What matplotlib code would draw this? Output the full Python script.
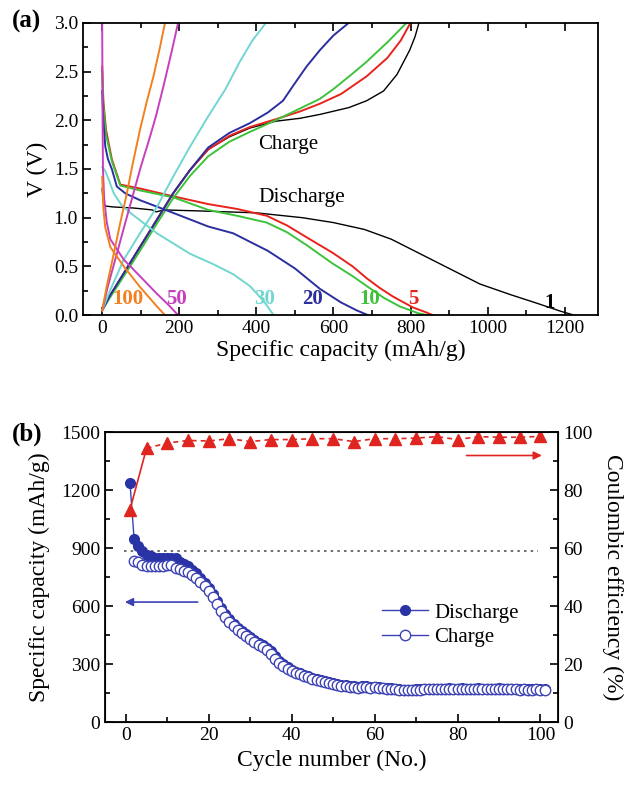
import numpy as np
import matplotlib
matplotlib.use("Agg")
import matplotlib.pyplot as plt
from matplotlib.ticker import MultipleLocator

plt.rcParams['font.family'] = ['Liberation Serif', 'DejaVu Serif']
plt.rcParams['mathtext.fontset'] = 'stix'

# ---------------- panel (a): charge / discharge profiles ----------------
# cycle 1 (black)
dis1_cap = [0, 2, 8, 30, 80, 130, 140, 160, 250, 400, 520, 600, 680, 750, 820, 900, 980, 1060, 1130, 1190, 1225]
dis1_v = [1.30, 1.18, 1.12, 1.11, 1.10, 1.08, 1.06, 1.08, 1.07, 1.05, 1.00, 0.95, 0.88, 0.78, 0.64, 0.48, 0.32, 0.21, 0.12, 0.04, 0.0]
chg1_cap = [0, 20, 56, 98, 142, 184, 228, 275, 330, 383, 450, 513, 565, 640, 686, 730, 765, 798, 812, 822]
chg1_v = [0.05, 0.2, 0.43, 0.7, 0.98, 1.25, 1.49, 1.7, 1.83, 1.92, 1.99, 2.02, 2.06, 2.13, 2.2, 2.3, 2.47, 2.72, 2.86, 3.0]
# cycle 5 (red)
dis5_cap = [0, 3, 10, 25, 47, 98, 184, 275, 350, 427, 480, 530, 598, 650, 686, 720, 755, 806, 840, 858]
dis5_v = [2.55, 2.2, 1.9, 1.6, 1.34, 1.3, 1.22, 1.14, 1.09, 1.02, 0.92, 0.8, 0.64, 0.5, 0.38, 0.28, 0.19, 0.08, 0.03, 0.0]
chg5_cap = [0, 20, 56, 98, 142, 184, 228, 275, 330, 383, 450, 513, 565, 620, 686, 740, 775, 800]
chg5_v = [0.05, 0.2, 0.43, 0.7, 0.98, 1.25, 1.49, 1.7, 1.84, 1.93, 2.01, 2.09, 2.17, 2.27, 2.45, 2.64, 2.82, 3.0]
# cycle 10 (green)
dis10_cap = [0, 3, 10, 25, 47, 98, 184, 275, 350, 427, 480, 530, 598, 650, 686, 730, 772, 820, 845]
dis10_v = [2.5, 2.15, 1.85, 1.58, 1.33, 1.28, 1.21, 1.08, 1.02, 0.95, 0.85, 0.72, 0.53, 0.4, 0.3, 0.18, 0.09, 0.02, 0.0]
chg10_cap = [0, 20, 56, 98, 142, 184, 228, 275, 330, 383, 450, 513, 565, 600, 650, 686, 740, 790]
chg10_v = [0.05, 0.18, 0.4, 0.66, 0.94, 1.2, 1.43, 1.63, 1.78, 1.88, 2.0, 2.12, 2.22, 2.32, 2.48, 2.6, 2.8, 3.0]
# cycle 20 (blue)
dis20_cap = [0, 3, 8, 15, 25, 38, 60, 98, 184, 275, 340, 430, 500, 565, 620, 660, 690]
dis20_v = [2.3, 2.0, 1.73, 1.6, 1.5, 1.32, 1.25, 1.18, 1.05, 0.91, 0.84, 0.66, 0.48, 0.27, 0.13, 0.05, 0.0]
chg20_cap = [0, 20, 56, 98, 142, 184, 228, 275, 330, 383, 430, 469, 500, 530, 565, 600, 640]
chg20_v = [0.05, 0.2, 0.43, 0.7, 0.98, 1.25, 1.49, 1.72, 1.87, 1.97, 2.08, 2.2, 2.38, 2.55, 2.72, 2.87, 3.0]
# cycle 30 (cyan)
dis30_cap = [0, 8, 18, 30, 50, 73, 142, 228, 290, 340, 383, 420, 445]
dis30_v = [1.52, 1.48, 1.38, 1.25, 1.13, 1.05, 0.84, 0.63, 0.52, 0.42, 0.3, 0.14, 0.0]
chg30_cap = [0, 20, 56, 98, 142, 184, 228, 275, 320, 357, 390, 425]
chg30_v = [0.05, 0.25, 0.57, 0.84, 1.11, 1.42, 1.73, 2.04, 2.32, 2.6, 2.82, 3.0]
# cycle 50 (magenta)
dis50_cap = [0, 1, 2, 5, 12, 21, 56, 98, 142, 176, 197]
dis50_v = [3.0, 2.0, 1.5, 1.2, 0.95, 0.78, 0.57, 0.4, 0.22, 0.09, 0.0]
chg50_cap = [0, 15, 38, 60, 81, 100, 124, 140, 159, 180, 197]
chg50_v = [0.05, 0.3, 0.63, 0.95, 1.25, 1.52, 1.83, 2.05, 2.35, 2.7, 3.0]
# cycle 100 (orange)
dis100_cap = [0, 3, 8, 21, 56, 98, 142, 163]
dis100_v = [1.42, 1.1, 0.9, 0.7, 0.5, 0.29, 0.09, 0.0]
chg100_cap = [0, 12, 30, 47, 64, 80, 98, 115, 133, 150, 163]
chg100_v = [0.05, 0.3, 0.63, 0.95, 1.25, 1.57, 1.9, 2.18, 2.45, 2.75, 3.0]

cycle_labels = ['1', '5', '10', '20', '30', '50', '100']
label_cap = [1160, 806, 694, 547, 422, 194, 68]
label_v = [0.13, 0.17, 0.17, 0.17, 0.17, 0.17, 0.17]

# ---------------- panel (b): cycling ----------------
dis_cycle = list(range(1, 102))
dis_capacity = [1240, 950, 910, 885, 868, 858, 852, 850, 848, 850, 852, 848, 830, 820, 810,
                790, 770, 748, 722, 695, 665, 625, 590, 558, 532, 510, 488, 470, 455, 440,
                425, 410, 398, 385, 368, 345, 318, 300, 286, 273, 262, 254, 246, 238, 231,
                225, 220, 215, 208, 203, 198, 194, 191, 189, 186, 184, 187, 186, 184, 185,
                182, 179, 177, 175, 173, 171, 169, 168, 169, 170, 171, 173, 173, 174, 174,
                173, 174, 175, 174, 174, 175, 174, 173, 174, 175, 174, 174, 173, 174, 175,
                174, 173, 174, 173, 172, 173, 172, 171, 173, 172, 171]
chg_cycle = list(range(2, 102))
chg_capacity = [835, 830, 815, 810, 808, 806, 806, 808, 812, 814, 800, 795, 785, 775,
                760, 745, 725, 705, 680, 650, 610, 575, 545, 520, 500, 478, 460, 445, 430,
                415, 402, 390, 375, 355, 330, 305, 290, 278, 265, 255, 248, 240, 232, 225,
                220, 215, 210, 203, 198, 193, 190, 187, 185, 182, 180, 183, 182, 180, 182,
                178, 175, 173, 172, 170, 168, 166, 165, 166, 167, 168, 170, 170, 171, 171,
                170, 171, 172, 171, 171, 172, 171, 170, 171, 172, 171, 171, 170, 171, 172,
                171, 170, 171, 170, 169, 170, 169, 168, 170, 169, 168]
ce_cycle = [1, 5, 10, 15, 20, 25, 30, 35, 40, 45, 50, 55, 60, 65, 70, 75, 80, 85, 90, 95, 100]
ce_value = [73.3, 94.5, 96.3, 97.2, 97.0, 97.8, 96.8, 97.5, 97.5, 97.8, 97.8, 96.8, 97.8,
            97.8, 98.0, 98.5, 97.5, 98.5, 98.3, 98.3, 98.6]

fig = plt.figure(figsize=(6.33, 7.86), dpi=100)

# ---- (a)
ax1 = fig.add_axes([0.131, 0.599, 0.814, 0.372])
curves = [
    (dis1_cap, dis1_v, chg1_cap, chg1_v, 'black', 1.0),
    (dis5_cap, dis5_v, chg5_cap, chg5_v, '#e8231c', 1.4),
    (dis10_cap, dis10_v, chg10_cap, chg10_v, '#3ec23a', 1.4),
    (dis20_cap, dis20_v, chg20_cap, chg20_v, '#2b2f9e', 1.4),
    (dis30_cap, dis30_v, chg30_cap, chg30_v, '#72d6d0', 1.4),
    (dis50_cap, dis50_v, chg50_cap, chg50_v, '#c53fbf', 1.4),
    (dis100_cap, dis100_v, chg100_cap, chg100_v, '#f2801e', 1.4),
]
for dc, dv, cc, cv, col, lw in curves:
    ax1.plot(dc, dv, color=col, lw=lw)
    ax1.plot(cc, cv, color=col, lw=lw)
lab_colors = ['black', '#e8231c', '#3ec23a', '#2b2f9e', '#72d6d0', '#c53fbf', '#f2801e']
for t, xx, yy, c in zip(cycle_labels, label_cap, label_v, lab_colors):
    ax1.text(xx, yy, t, color=c, fontsize=15, fontweight='bold', ha='center', va='center')
ax1.text(405, 1.75, 'Charge', fontsize=15, ha='left', va='center')
ax1.text(405, 1.21, 'Discharge', fontsize=15.5, ha='left', va='center')

ax1.set_xlim(-50, 1287)
ax1.set_ylim(0, 3.0)
ax1.xaxis.set_major_locator(MultipleLocator(200))
ax1.xaxis.set_minor_locator(MultipleLocator(100))
ax1.yaxis.set_major_locator(MultipleLocator(0.5))
ax1.yaxis.set_minor_locator(MultipleLocator(0.25))
ax1.yaxis.set_major_formatter(matplotlib.ticker.FormatStrFormatter('%.1f'))
ax1.tick_params(which='both', direction='in', top=True, right=False, labelsize=14, width=1.2)
ax1.tick_params(which='major', length=6)
ax1.tick_params(which='minor', length=3.5)
ax1.set_xlabel('Specific capacity (mAh/g)', fontsize=17, labelpad=2)
ax1.set_ylabel('V (V)', fontsize=17)
for s in ax1.spines.values():
    s.set_linewidth(1.3)

# ---- (b)
ax2 = fig.add_axes([0.166, 0.081, 0.716, 0.369])
blue = '#3c42b4'
ax2.plot(dis_cycle, dis_capacity, '-o', color=blue, mfc='#2a33a6', mec='#2a33a6', ms=7, lw=1.0,
         label='Discharge', zorder=3)
ax2.plot(chg_cycle, chg_capacity, '-o', color=blue, mfc='white', mec=blue, ms=7.5, mew=1.0, lw=1.0,
         label='Charge', zorder=4)
ax2.plot([-0.5, 99.3], [886, 886], ls=(0, (1.5, 2.5)), color='#555555', lw=1.2)
ax2.annotate('', xy=(-0.9, 622), xytext=(18, 622),
             arrowprops=dict(arrowstyle='-|>', color=blue, lw=1.2, mutation_scale=12))

ax3 = ax2.twinx()
ax3.plot(ce_cycle[:2], ce_value[:2], '-', color='#e02420', lw=1.2)
ax3.plot(ce_cycle[1:], ce_value[1:], '--', color='#e02420', lw=1.2, dashes=(3, 2.5))
ax3.plot(ce_cycle, ce_value, '^', color='#e02420', ms=9, lw=0)
ax3.annotate('', xy=(101, 92), xytext=(81.5, 92),
             arrowprops=dict(arrowstyle='-|>', color='#e02420', lw=1.2, mutation_scale=12))

ax2.set_xlim(-5, 104.3)
ax2.set_ylim(0, 1500)
ax3.set_ylim(0, 100)
ax2.xaxis.set_major_locator(MultipleLocator(20))
ax2.xaxis.set_minor_locator(MultipleLocator(10))
ax2.yaxis.set_major_locator(MultipleLocator(300))
ax2.yaxis.set_minor_locator(MultipleLocator(150))
ax3.yaxis.set_major_locator(MultipleLocator(20))
ax3.yaxis.set_minor_locator(MultipleLocator(10))
ax2.tick_params(which='both', direction='in', top=False, right=False, labelsize=14, width=1.2)
ax3.tick_params(which='both', direction='in', labelsize=14, width=1.2)
for a in (ax2, ax3):
    a.tick_params(which='major', length=6)
    a.tick_params(which='minor', length=3.5)
ax2.set_xlabel('Cycle number (No.)', fontsize=17)
ax2.set_ylabel('Specific capacity (mAh/g)', fontsize=17, labelpad=8)
ax3.set_ylabel('Coulombic efficiency (%)', fontsize=17, rotation=270, labelpad=22)
for s in ax3.spines.values():
    s.set_linewidth(1.3)

leg = ax2.legend(loc='center left', bbox_to_anchor=(0.57, 0.335), frameon=False, fontsize=15,
                 handlelength=2.2, handletextpad=0.3, labelspacing=0.25)

fig.text(0.018, 0.987, '(a)', fontsize=18, fontweight='bold', va='top')
fig.text(0.018, 0.462, '(b)', fontsize=18, fontweight='bold', va='top')

fig.savefig('out.png', dpi=100)
